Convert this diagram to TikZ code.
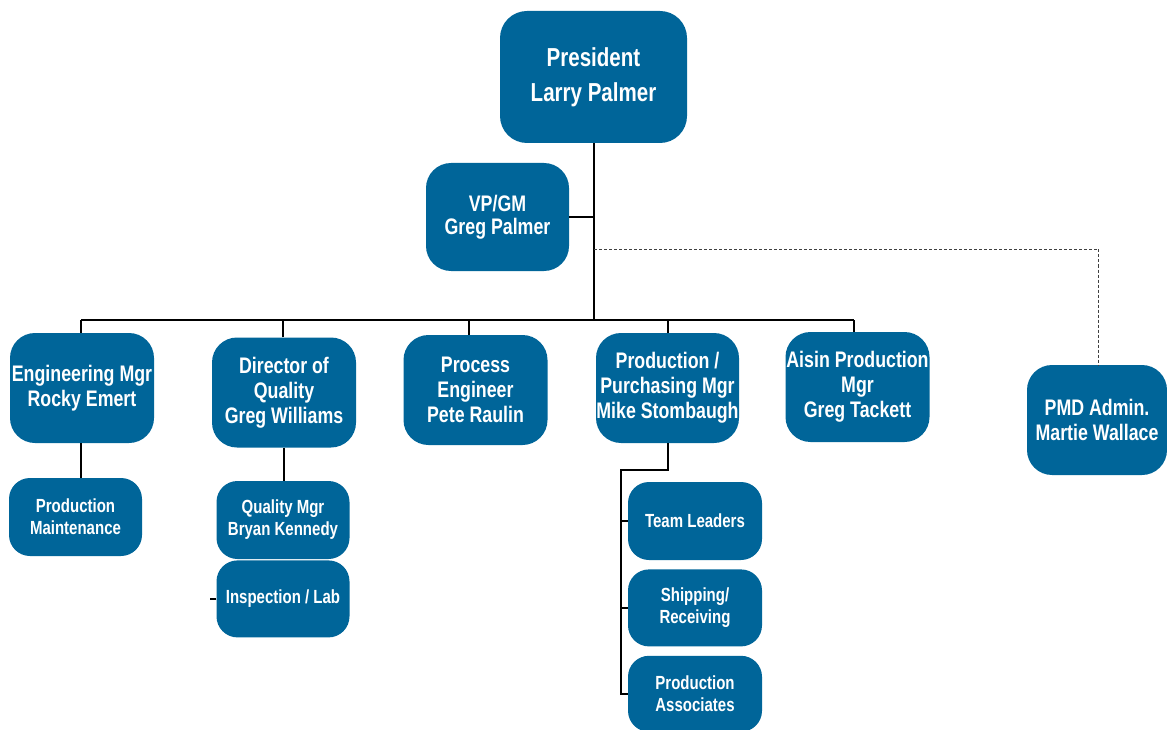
\documentclass[tikz,border=0pt]{standalone}
\usepackage{fontspec}
\newfontfamily\orgfont{Liberation Sans}[FakeStretch=0.79]
\usetikzlibrary{positioning}
\definecolor{orgblue}{RGB}{0,101,153}

\tikzset{
  box/.style={fill=orgblue, text=white, align=center, inner sep=0pt},
  topbox/.style={box, rounded corners=27pt, font=\orgfont\bfseries\fontsize{26}{35}\selectfont},
  mgrbox/.style={box, rounded corners=25pt, minimum width=144pt, minimum height=110pt,
    font=\orgfont\bfseries\fontsize{22.5}{25}\selectfont},
  staffbox/.style={box, rounded corners=21pt, minimum width=133pt, minimum height=78pt,
    font=\orgfont\bfseries\fontsize{19}{22}\selectfont},
  link/.style={line width=2pt},
  dashlink/.style={line width=1pt, black!75, dash pattern=on 3pt off 2pt}
}

\begin{document}
\begin{tikzpicture}[x=1pt, y=-1pt]
  \useasboundingbox (0,0) rectangle (1167,730);

  % top of the chart
  \node[topbox, minimum width=187pt, minimum height=132pt] (pres) at (593.5,77) {President\\Larry Palmer};
  \node[topbox, minimum width=143pt, minimum height=108pt, rounded corners=25pt,
        font=\orgfont\bfseries\fontsize{22.5}{23}\selectfont] (vp) at (497.5,217) {VP/GM\\Greg Palmer};

  % managers
  \node[mgrbox] (eng)   at (82,388)    {Engineering Mgr\\Rocky Emert};
  \node[mgrbox] (qual)  at (284,392.5) {Director of\\Quality\\Greg Williams};
  \node[mgrbox] (proc)  at (475.5,390) {Process\\Engineer\\Pete Raulin};
  \node[mgrbox, minimum width=143pt] (prod) at (667.5,388) {Production /\\Purchasing Mgr\\Mike Stombaugh};
  \node[mgrbox] (aisin) at (857.5,387) {Aisin Production\\Mgr\\Greg Tackett};
  \node[mgrbox, minimum width=140pt] (pmd) at (1097,420) {PMD Admin.\\Martie Wallace};

  % staff
  \node[staffbox] (maint) at (75.5,517) {Production\\Maintenance};
  \node[staffbox] (qmgr)  at (283,520)  {Quality Mgr\\Bryan Kennedy};
  \node[staffbox, minimum height=77pt, below=1pt of qmgr] (insp) {Inspection / Lab};
  \node[staffbox, minimum width=134pt] (team) at (695,521) {Team Leaders};
  \node[staffbox, minimum width=134pt, minimum height=77pt, below=9pt of team] (ship) {Shipping/\\Receiving};
  \node[staffbox, minimum width=134pt, minimum height=76pt, below=9pt of ship] (assoc) {Production\\Associates};

  \coordinate (bus)  at (594,320);
  \coordinate (dash) at (594,249);
  \coordinate (rail) at (621,470);

  % reporting lines
  \draw[link] (pres.south) -- (pres.south |- bus);
  \draw[link] (vp.east) -- (vp.east -| pres.south);
  \draw[link] ([xshift=-1pt]eng.north |- bus) -- ([xshift=-3.5pt]aisin.north |- bus);
  \foreach \n/\dx in {eng/-1,qual/-1,proc/-6.5,prod/0,aisin/-3.5}
    \draw[link] ([xshift=\dx pt]\n.north) -- ([xshift=\dx pt]\n.north |- bus);
  \draw[dashlink] (dash) -| ([xshift=1.5pt]pmd.north);

  \draw[link] ([xshift=-1pt]eng.south) -- ([xshift=-1pt]eng.south |- maint.north);
  \draw[link] (qual.south) -- (qual.south |- qmgr.north);
  \draw[link] (insp.west) -- ++(-6,0);

  \draw[link] (prod.south) |- (rail) -- (rail |- assoc.west) -- (assoc.west);
  \draw[link] (rail |- team.west) -- (team.west);
  \draw[link] (rail |- ship.west) -- (ship.west);
\end{tikzpicture}
\end{document}
